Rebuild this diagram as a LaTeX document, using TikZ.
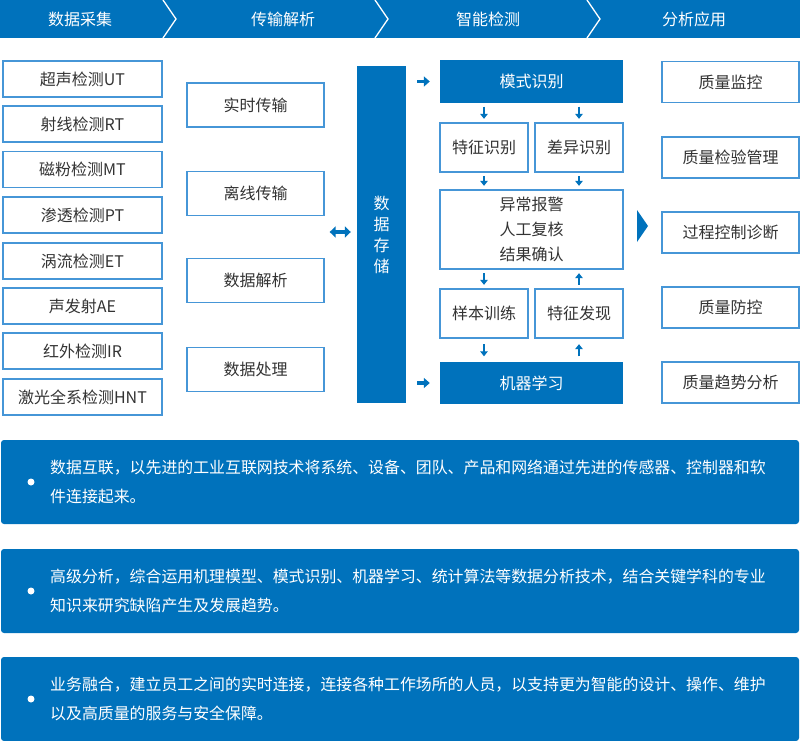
\documentclass[tikz,border=0pt]{standalone}
\usepackage{fontspec}
\setmainfont{Noto Sans CJK SC}
\usetikzlibrary{arrows.meta,calc}
\definecolor{mainblue}{RGB}{0,114,188}
\definecolor{edgeblue}{RGB}{70,150,215}
\definecolor{txtgray}{RGB}{51,51,51}
\begin{document}
\begin{tikzpicture}[x=1pt,y=-1pt,
  basebox/.style={draw=edgeblue, line width=1.3pt, fill=white, text=txtgray,
    font=\fontsize{16}{20}\selectfont, inner sep=0pt, align=center},
  lbox/.style={basebox, minimum width=159pt, minimum height=36pt},
  mbox/.style={basebox, minimum width=137pt, minimum height=44pt},
  rbox/.style={basebox, minimum width=137pt, minimum height=41pt},
  sbox/.style={basebox, minimum width=88pt, minimum height=49pt},
  bigbox/.style={basebox, minimum width=183pt, minimum height=79pt, font=\fontsize{16}{25}\selectfont},
  bluebox/.style={fill=mainblue, text=white, font=\fontsize{16}{20}\selectfont, inner sep=0pt,
    minimum width=183pt, minimum height=43pt},
  headtxt/.style={text=white, font=\fontsize{16}{20}\selectfont, inner sep=0pt},
  panel/.style={fill=mainblue, rounded corners=3pt, minimum width=798pt, minimum height=84pt, inner sep=0pt},
  ptext/.style={text=white, font=\fontsize{15.9}{29}\selectfont, align=left, inner sep=0pt, anchor=west},
  thinarr/.style={draw=mainblue, line width=2pt, -{Triangle[length=5pt,width=7.5pt]}, shorten <=3.5pt, shorten >=3.5pt},
  farthin/.style={thinarr, shorten <=5.5pt, shorten >=5.5pt},
  fatarr/.style={draw=mainblue, line width=3.5pt, -{Triangle[length=6pt,width=10pt]}},
  dblarr/.style={draw=mainblue, line width=3.5pt, {Triangle[length=6pt,width=11pt]}-{Triangle[length=6pt,width=11pt]}}
]
\useasboundingbox (0,0) rectangle (800,741);

% header band
\fill[mainblue] (0,0) rectangle (800,38);
\foreach \cx in {163,375,587}{
  \draw[white, line width=1.3pt] (\cx,0) -- (\cx+13,19) -- (\cx,38);
}
\node[headtxt] (h1) at (80,19) {数据采集};
\node[headtxt] (h2) at (283,19) {传输解析};
\node[headtxt] (h3) at (488,19) {智能检测};
\node[headtxt] (h4) at (694,19) {分析应用};

% left column
\node[lbox] (l1) at (82.5,79) {超声检测UT};
\node[lbox] (l2) at (82.5,124) {射线检测RT};
\node[lbox] (l3) at (82.5,169.5) {磁粉检测MT};
\node[lbox] (l4) at (82.5,215) {渗透检测PT};
\node[lbox] (l5) at (82.5,261) {涡流检测ET};
\node[lbox] (l6) at (82.5,306) {声发射AE};
\node[lbox] (l7) at (82.5,351) {红外检测IR};
\node[lbox] (l8) at (82.5,397) {激光全系检测HNT};

% middle column
\node[mbox] (m1) at (255.5,105) {实时传输};
\node[mbox] (m2) at (255.5,193.5) {离线传输};
\node[mbox] (m3) at (255.5,280.5) {数据解析};
\node[mbox] (m4) at (255.5,369.5) {数据处理};

% storage bar
\node[fill=mainblue, minimum width=49pt, minimum height=337pt, inner sep=0pt,
  text=white, font=\fontsize{16}{21}\selectfont, align=center] (store) at (381.5,234.5) {数\\据\\存\\储};

% double arrow
\coordinate (dl) at (m2.east |- 0,232);
\draw[dblarr, shorten <=5pt, shorten >=6pt] (dl) -- (store.west |- dl);

% detection block
\node[bluebox] (mode) at (531.5,81.5) {模式识别};
\node[sbox] (tz) at (484,147.5) {特征识别};
\node[sbox] (cy) at (579,147.5) {差异识别};
\node[bigbox] (big) at (531.5,229.5) {异常报警\\人工复核\\结果确认};
\node[sbox] (yb) at (484,313.5) {样本训练};
\node[sbox] (fx) at (579,313.5) {特征发现};
\node[bluebox, minimum height=42pt] (ml) at (531.5,383) {机器学习};

\draw[fatarr, shorten <=11pt, shorten >=10pt] (store.east |- mode) -- (mode.west);
\draw[fatarr, shorten <=11pt, shorten >=10pt] (store.east |- ml) -- (ml.west);

\draw[thinarr] (tz.north |- mode.south) -- (tz.north);
\draw[thinarr] (cy.north |- mode.south) -- (cy.north);
\draw[thinarr] (tz.south) -- (tz.south |- big.north);
\draw[thinarr] (cy.south) -- (cy.south |- big.north);
\draw[thinarr] (yb.north |- big.south) -- (yb.north);
\draw[thinarr] (fx.north) -- (fx.north |- big.south);
\draw[farthin] (yb.south) -- (yb.south |- ml.north);
\draw[farthin] (fx.south |- ml.north) -- (fx.south);

% right triangle
\fill[mainblue] (637,210) -- (648,226) -- (637,242) -- cycle;

% right column
\node[rbox] (r1) at (730.5,82) {质量监控};
\node[rbox] (r2) at (730.5,157.5) {质量检验管理};
\node[rbox] (r3) at (730.5,232.5) {过程控制诊断};
\node[rbox] (r4) at (730.5,307.5) {质量防控};
\node[rbox] (r5) at (730.5,382.5) {质量趋势分析};

% bottom panels
\node[panel] (p1) at (400,482) {};
\node[panel] (p2) at (400,591) {};
\node[panel] (p3) at (400,699) {};
\fill[white] (31,482) circle (3.5);
\fill[white] (31,591) circle (3.5);
\fill[white] (31,699) circle (3.5);
\node[ptext] (t1) at (50,482) {数据互联，以先进的工业互联网技术将系统、设备、团队、产品和网络通过先进的传感器、控制器和软\\件连接起来。};
\node[ptext] (t2) at (50,591) {高级分析，综合运用机理模型、模式识别、机器学习、统计算法等数据分析技术，结合关键学科的专业\\知识来研究缺陷产生及发展趋势。};
\node[ptext] (t3) at (50,699) {业务融合，建立员工之间的实时连接，连接各种工作场所的人员，以支持更为智能的设计、操作、维护\\以及高质量的服务与安全保障。};
\end{tikzpicture}
\end{document}
